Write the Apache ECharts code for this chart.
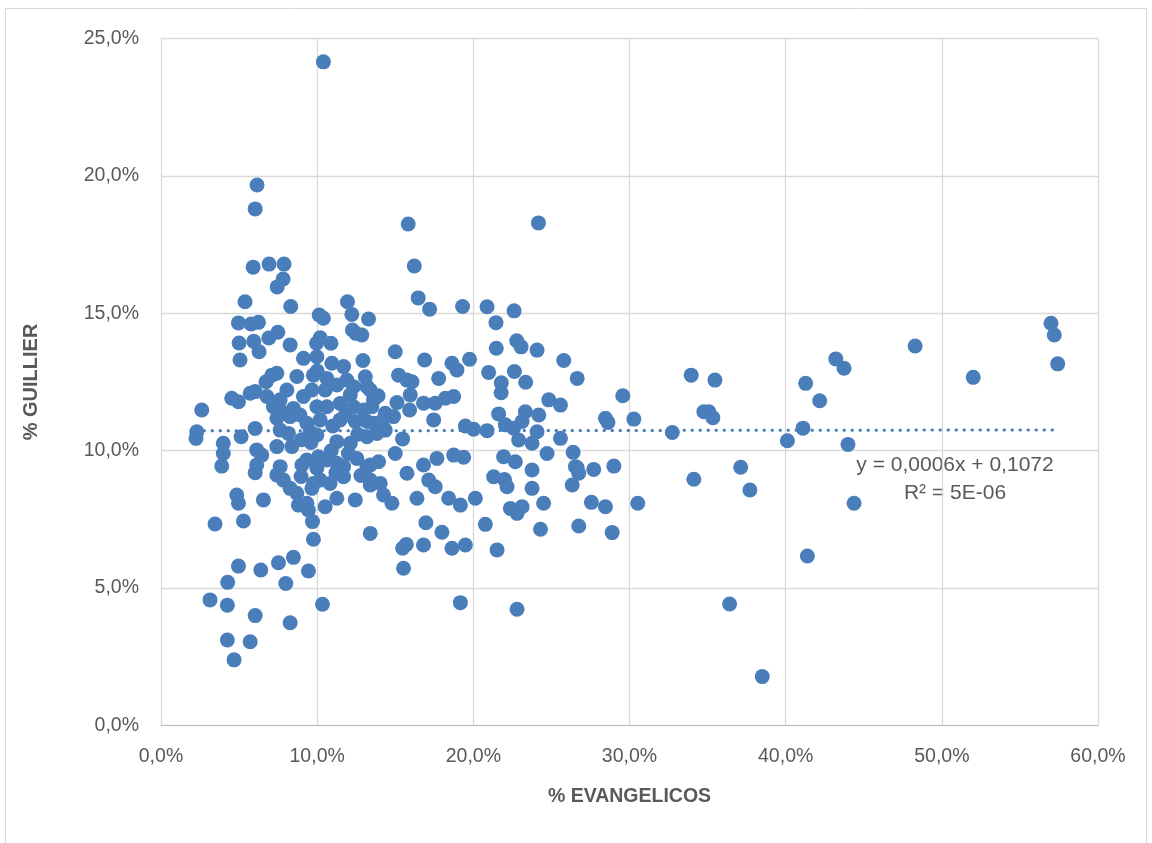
<!DOCTYPE html>
<html>
<head>
<meta charset="utf-8">
<script src="https://cdn.jsdelivr.net/npm/echarts@6/dist/echarts.min.js"></script>
<style>
  html, body { margin: 0; padding: 0; background: #ffffff; }
  #chart { width: 1152px; height: 843px; }
</style>
</head>
<body>
<div id="chart"></div>
<script>
// Share of evangelicals (x, %) vs. Guillier vote share (y, %) per commune
const points = [
  [10.40,24.15],[6.15,19.67],[6.03,18.80],[15.83,18.25],[24.17,18.29],
  [5.90,16.68],[6.92,16.79],[7.88,16.79],[7.82,16.25],[7.44,15.96],[16.22,16.72],[16.47,15.56],
  [5.38,15.42],[8.31,15.25],[4.96,14.65],[5.77,14.61],[6.24,14.67],[6.90,14.10],[7.48,14.31],[5.00,13.92],[5.94,13.98],[8.27,13.85],
  [10.13,14.94],[10.40,14.82],[10.19,14.11],[9.96,13.91],[10.88,13.91],[11.94,15.42],[12.22,14.96],[13.29,14.79],[12.26,14.39],[12.86,14.21],[12.48,14.27],
  [17.20,15.15],[19.31,15.25],[20.88,15.24],[22.61,15.09],[21.45,14.66],[22.78,14.00],[23.06,13.78],[21.47,13.73],[24.08,13.66],[15.00,13.60],
  [6.28,13.60],[5.06,13.30],[9.12,13.36],[9.98,13.42],[10.94,13.18],[11.69,13.06],[12.93,13.28],[9.76,12.75],[7.10,12.75],[7.42,12.82],[6.73,12.51],
  [8.06,12.21],[10.62,12.63],[11.90,12.57],[13.08,12.69],[12.33,12.33],[13.19,12.33],
  [4.53,11.91],[4.96,11.78],[5.71,12.09],[6.03,12.15],[6.78,11.97],[7.63,11.85],[9.12,11.97],[9.66,12.21],[10.51,12.21],[11.26,12.39],[12.12,12.03],[13.40,12.21],[13.61,11.85],
  [7.20,11.60],[7.63,11.48],[8.48,11.54],[9.98,11.60],[10.62,11.60],[11.47,11.72],[12.33,11.60],[12.97,11.48],[2.61,11.48],
  [7.42,11.18],[8.27,11.24],[9.34,11.00],[10.19,11.12],[11.47,11.12],[12.44,11.06],[13.19,11.06],
  [2.29,10.69],[2.24,10.45],[6.03,10.81],[5.13,10.51],[7.63,10.75],[8.16,10.63],[9.55,10.69],[9.98,10.57],[11.26,10.33],[12.12,10.27],[13.19,10.51],[13.83,10.63],
  [3.99,10.27],[3.99,9.90],[3.89,9.44],[6.13,10.03],[6.45,9.84],[7.42,10.15],[8.38,10.15],[6.13,9.48],[6.03,9.20],[7.63,9.42],[7.42,9.12],[7.84,8.93],
  [9.02,9.48],[9.34,9.66],[10.08,9.78],[10.62,9.66],[9.98,9.36],[10.19,8.93],[11.26,9.54],[11.69,9.42],[11.69,9.05],[10.83,8.81],[9.66,8.63],[8.27,8.63],[8.70,8.45],
  [13.19,9.42],[13.40,8.75],[12.44,8.21],[9.34,8.09],[10.51,7.96],[4.85,8.39],[4.96,8.09],[6.56,8.21],
  [8.97,9.06],[9.76,8.81],[13.40,8.93],[11.26,8.27],[12.54,9.72],[14.47,11.30],
  [8.90,11.30],[9.60,10.30],[11.00,10.90],[12.60,10.60],[10.90,10.00],[12.00,9.90],[9.00,10.40],[11.80,11.30],[10.00,12.90],[8.70,12.70],[13.90,12.00],[14.20,11.10],[11.20,9.20],[12.80,9.10],
  [3.46,7.33],[5.28,7.44],[8.80,8.02],[9.44,7.84],[9.70,7.42],[9.76,6.78],[13.40,6.99],[4.96,5.80],[6.39,5.66],[4.27,5.21],[7.52,5.92],[8.48,6.12],
  [7.99,5.17],[9.44,5.62],[3.14,4.57],[4.25,4.38],[6.03,4.00],[8.27,3.74],[10.34,4.41],[4.25,3.11],[5.71,3.05],[4.68,2.39],
  [16.88,13.30],[18.63,13.18],[18.95,12.94],[19.76,13.33],[25.79,13.28],[26.65,12.63],[15.21,12.75],[15.75,12.57],[16.07,12.51],[17.78,12.63],
  [20.98,12.85],[22.63,12.88],[21.79,12.47],[21.78,12.11],[23.35,12.49],
  [15.11,11.75],[15.96,12.03],[15.92,11.48],[16.81,11.73],[17.56,11.73],[18.21,11.91],[18.74,11.97],[17.46,11.12],[13.50,11.60],[14.36,11.36],[14.89,11.24],
  [13.61,11.00],[14.36,10.75],[15.47,10.43],[19.49,10.90],[20.02,10.78],[20.88,10.73],[21.62,11.34],[22.05,10.94],[22.58,10.82],[22.90,10.39],[23.33,11.42],
  [23.12,11.06],[24.19,11.30],[24.83,11.85],[25.58,11.66],[24.08,10.69],[23.76,10.27],[25.58,10.45],[24.72,9.90],
  [15.00,9.90],[13.93,9.60],[13.40,9.48],[15.75,9.18],[16.81,9.48],[17.67,9.72],[18.74,9.84],[19.38,9.76],[17.14,8.93],[17.56,8.69],[16.39,8.27],
  [18.42,8.27],[19.17,8.02],[20.13,8.27],[21.94,9.78],[22.69,9.60],[21.30,9.05],[22.16,8.69],[21.99,8.95],[23.76,9.30],[23.76,8.63],[24.50,8.09],
  [26.33,8.75],[26.54,9.42],[14.04,8.81],[14.25,8.39],[14.79,8.09],[22.37,7.90],
  [16.96,7.38],[17.99,7.03],[15.47,6.45],[15.71,6.59],[16.81,6.57],[18.63,6.45],[19.49,6.57],[15.53,5.72],[20.77,7.32],[21.52,6.39],
  [22.80,7.72],[23.12,7.96],[24.30,7.14],[26.75,7.26],[19.17,4.47],[22.80,4.23],
  [29.57,12.00],[28.46,11.18],[28.62,11.03],[30.28,11.15],[32.74,10.66],[33.95,12.75],[35.47,12.57],[34.76,11.42],[35.08,11.42],[35.34,11.20],
  [26.39,9.94],[26.65,9.38],[26.75,9.18],[27.71,9.32],[29.00,9.44],[27.56,8.12],[28.46,7.96],[30.53,8.09],[28.89,7.02],
  [34.12,8.96],[37.12,9.40],[37.71,8.57],[40.11,10.36],[41.11,10.82],[41.28,12.45],[42.18,11.82],[43.21,13.34],[41.39,6.17],
  [56.99,14.64],[57.20,14.21],[57.42,13.16],[48.29,13.81],[52.01,12.67],[43.74,13.00],[43.99,10.23],[44.38,8.09],[38.50,1.78],[36.41,4.42]
];

// Linear trend (Excel fit, in fractions): y = 0.0006x + 0.1072
const trendSlope = 0.0006;
const trendIntercept = 0.1072;
const trendLabel = ['y = 0,0006x + 0,1072', 'R² = 5E-06'];

const xTicks = { min: 0, max: 60, interval: 10 };
const yTicks = { min: 0, max: 25, interval: 5 };

const BLUE = '#4a7ebb';
const TEXT = '#595959';
const FONT = 'Liberation Sans';

const xs = points.map(p => p[0]);
const xMin = Math.min(...xs), xMax = Math.max(...xs);
// percent units: y% = slope * x% + intercept * 100
const trendAt = x => trendSlope * x + trendIntercept * 100;
const trendLine = [[xMin, trendAt(xMin)], [xMax, trendAt(xMax)]];

const pct = v => v.toFixed(1).replace('.', ',') + '%';

const chart = echarts.init(document.getElementById('chart'), null, { renderer: 'canvas' });
chart.setOption({
  backgroundColor: '#ffffff',
  animation: false,
  textStyle: { fontFamily: FONT },
  grid: { left: 161, right: 54, top: 38.5, bottom: 117.5, containLabel: false },
  xAxis: {
    type: 'value',
    min: xTicks.min, max: xTicks.max, interval: xTicks.interval,
    name: '% EVANGELICOS',
    nameLocation: 'middle',
    nameGap: 61,
    nameTextStyle: { color: TEXT, fontSize: 19.5, fontWeight: 'bold', fontFamily: FONT },
    axisLine: { show: true, lineStyle: { color: '#bfbfbf', width: 1 } },
    axisTick: { show: false },
    splitLine: { show: true, lineStyle: { color: '#d9d9d9', width: 1.3 } },
    axisLabel: { color: TEXT, fontSize: 19.5, margin: 21, formatter: pct }
  },
  yAxis: {
    type: 'value',
    min: yTicks.min, max: yTicks.max, interval: yTicks.interval,
    name: '% GUILLIER',
    nameLocation: 'middle',
    nameGap: 120,
    nameRotate: 90,
    nameTextStyle: { color: TEXT, fontSize: 20, fontWeight: 'bold', fontFamily: FONT },
    axisLine: { show: true, lineStyle: { color: '#d9d9d9', width: 1 } },
    axisTick: { show: false },
    splitLine: { show: true, lineStyle: { color: '#d9d9d9', width: 1.3 } },
    axisLabel: { color: TEXT, fontSize: 19.5, margin: 22, formatter: pct }
  },
  series: [
    {
      type: 'scatter',
      data: points,
      symbol: 'circle',
      symbolSize: 15,
      itemStyle: { color: BLUE, opacity: 1 },
      z: 2
    },
    {
      type: 'line',
      data: trendLine,
      showSymbol: false,
      symbol: 'none',
      lineStyle: { color: BLUE, width: 3, type: [0.5, 7.5], cap: 'round' },
      z: 3
    }
  ],
  graphic: [
    {
      type: 'rect',
      shape: { x: 5.5, y: 8.5, width: 1141, height: 850 },
      style: { fill: 'none', stroke: '#d9d9d9', lineWidth: 1 },
      silent: true
    },
    {
      type: 'text', x: 955, y: 465,
      style: { text: trendLabel[0], fill: TEXT, font: '21px "' + FONT + '"', textAlign: 'center', textVerticalAlign: 'middle' }
    },
    {
      type: 'text', x: 955, y: 493,
      style: { text: trendLabel[1], fill: TEXT, font: '21px "' + FONT + '"', textAlign: 'center', textVerticalAlign: 'middle' }
    }
  ]
});
</script>
</body>
</html>
